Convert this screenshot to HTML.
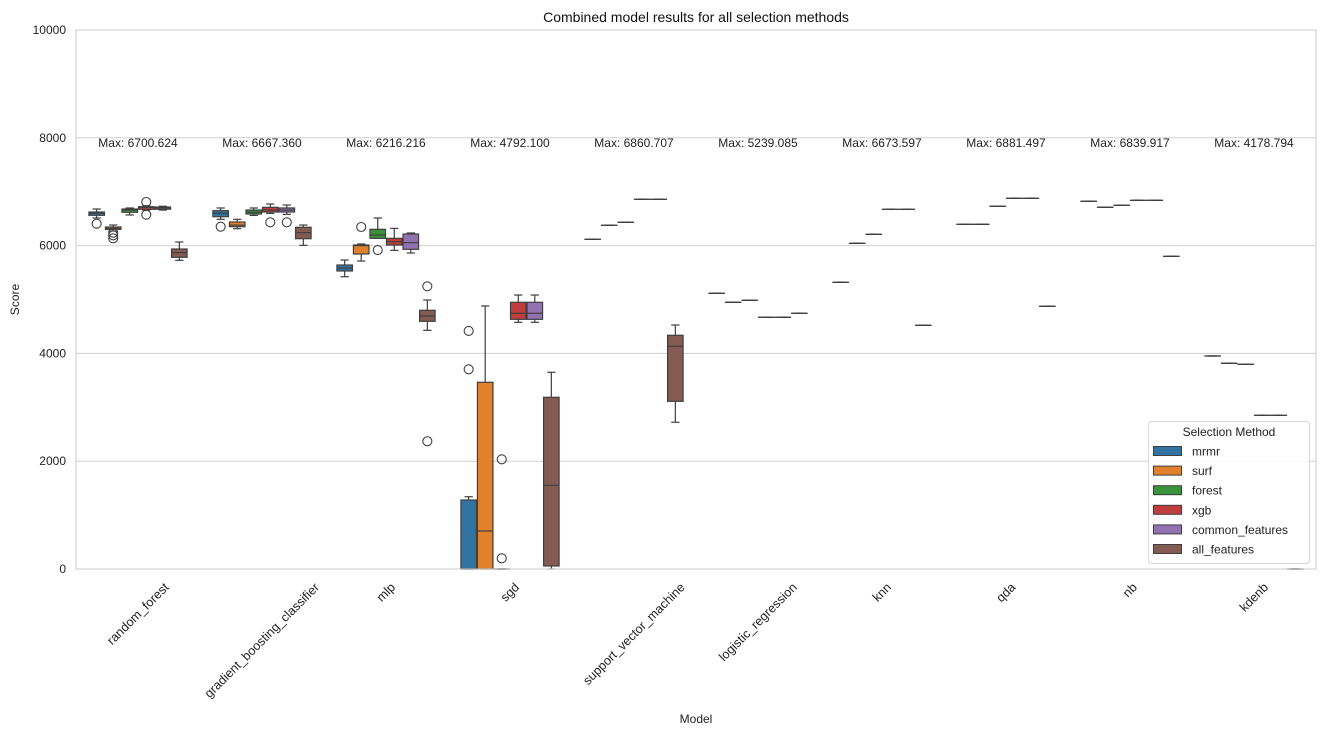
<!DOCTYPE html>
<html><head><meta charset="utf-8"><style>
body{margin:0;background:#fff;}
svg{display:block;font-family:"Liberation Sans","DejaVu Sans",sans-serif;}
</style></head><body>
<svg id="chart" width="1326" height="737" xmlns="http://www.w3.org/2000/svg">
<g id="grid"></g>
<g id="marks"></g>
<g id="axes"></g>
</svg>
<script>
const models=["random_forest","gradient_boosting_classifier","mlp","sgd","support_vector_machine","logistic_regression","knn","qda","nb","kdenb"];
const methods=["mrmr","surf","forest","xgb","common_features","all_features"];
const colors=["#3274a1","#e1812c","#3a923a","#c03d3e","#9372b2","#845b53"];
const maxLabels=["6700.624","6667.360","6216.216","4792.100","6860.707","5239.085","6673.597","6881.497","6839.917","4178.794"];
const yTicks=[0,2000,4000,6000,8000,10000];
// [lo, q1, med, q3, hi, outliers]
const stats=[
 [[6512,6562,6600,6623,6679,[6406]],[6271,6302,6320,6345,6382,[6240,6190,6135]],[6568,6618,6660,6679,6698,[]],[6660,6673,6710,6722,6740,[6809,6573]],[6660,6675,6700,6715,6730,[]],[5727,5783,5870,5937,6067,[]]],
 [[6488,6536,6600,6648,6698,[6351]],[6314,6351,6380,6438,6488,[]],[6560,6586,6620,6660,6698,[]],[6598,6623,6660,6710,6772,[6432]],[6580,6623,6660,6698,6753,[6432]],[6005,6128,6240,6340,6382,[]]],
 [[5423,5529,5584,5640,5732,[]],[5714,5844,6000,6011,6030,[6345]],[6135,6135,6197,6302,6512,[5918]],[5912,6011,6073,6135,6320,[]],[5863,5931,6054,6215,6234,[]],[4428,4595,4694,4800,4991,[5245,2370]]],
 [[0,0,0,1280,1341,[4416,3705]],[0,0,705,3464,4880,[]],[0,0,0,0,0,[2035,198]],[4577,4632,4744,4948,5083,[]],[4577,4632,4744,4948,5083,[]],[0,56,1553,3186,3650,[]]],
 [[6117,6117,6117,6117,6117,[]],[6377,6377,6377,6377,6377,[]],[6432,6432,6432,6432,6432,[]],[6859,6859,6859,6859,6859,[]],[6859,6859,6859,6859,6859,[]],[2722,3111,4132,4336,4527,[]]],
 [[5115,5115,5115,5115,5115,[]],[4948,4948,4948,4948,4948,[]],[4985,4985,4985,4985,4985,[]],[4670,4670,4670,4670,4670,[]],[4670,4670,4670,4670,4670,[]],[4744,4744,4744,4744,4744,[]]],
 [[5319,5319,5319,5319,5319,[]],[6042,6042,6042,6042,6042,[]],[6209,6209,6209,6209,6209,[]],[6673,6673,6673,6673,6673,[]],[6673,6673,6673,6673,6673,[]],[4521,4521,4521,4521,4521,[]]],
 [[6395,6395,6395,6395,6395,[]],[6395,6395,6395,6395,6395,[]],[6729,6729,6729,6729,6729,[]],[6877,6877,6877,6877,6877,[]],[6877,6877,6877,6877,6877,[]],[4874,4874,4874,4874,4874,[]]],
 [[6822,6822,6822,6822,6822,[]],[6711,6711,6711,6711,6711,[]],[6748,6748,6748,6748,6748,[]],[6840,6840,6840,6840,6840,[]],[6840,6840,6840,6840,6840,[]],[5801,5801,5801,5801,5801,[]]],
 [[3952,3952,3952,3952,3952,[]],[3816,3816,3816,3816,3816,[]],[3797,3797,3797,3797,3797,[]],[2851,2851,2851,2851,2851,[]],[2851,2851,2851,2851,2851,[]],[0,0,0,0,0,[]]]
];
const NS="http://www.w3.org/2000/svg";
const L=76,R=1316,T=30,B=569,YMAX=10000;
const band=(R-L)/models.length;
const y=v=>B-(v/YMAX)*(B-T);
const xc=i=>L+band*(i+0.5);
const hw=band*0.8/methods.length;
const xh=(i,j)=>xc(i)-band*0.4+hw*(j+0.5);
function el(tag,attrs,parent,text){const e=document.createElementNS(NS,tag);for(const k in attrs)e.setAttribute(k,attrs[k]);if(text!=null)e.textContent=text;parent.appendChild(e);return e;}
const grid=document.getElementById('grid'),marks=document.getElementById('marks'),axes=document.getElementById('axes'),svg=document.getElementById('chart');
yTicks.forEach(t=>{
 const g=el('line',{x1:L,x2:R,y1:y(t),y2:y(t),stroke:'#d0d0d0','stroke-width':1},grid);
 
 
 const tx=el('text',{x:L-10,y:y(t)+4,'text-anchor':'end','font-size':12,fill:'#222'},axes,String(t));
 
 
});
const frame=el('rect',{x:L,y:T,width:R-L,height:B-T,fill:'none',stroke:'#cccccc','stroke-width':1},axes);


const LC='#3f3f3f';
stats.forEach((grp,i)=>{
 grp.forEach((s,j)=>{
  const cx=xh(i,j),g=el('g',{},marks);
  
  
  const [lo,q1,md,q3,hi,out]=s;
  el('line',{x1:cx,x2:cx,y1:y(hi),y2:y(q3),stroke:LC,'stroke-width':1.2},g);
  el('line',{x1:cx,x2:cx,y1:y(q1),y2:y(lo),stroke:LC,'stroke-width':1.2},g);
  el('line',{x1:cx-hw/4,x2:cx+hw/4,y1:y(hi),y2:y(hi),stroke:LC,'stroke-width':1.2},g);
  el('line',{x1:cx-hw/4,x2:cx+hw/4,y1:y(lo),y2:y(lo),stroke:LC,'stroke-width':1.2},g);
  el('rect',{x:cx-hw/2+0.5,y:y(q3),width:hw-1,height:Math.max(y(q1)-y(q3),0.01),fill:colors[j],stroke:LC,'stroke-width':1.2},g);
  el('line',{x1:cx-hw/2+0.5,x2:cx+hw/2-0.5,y1:y(md),y2:y(md),stroke:LC,'stroke-width':1.2},g);
  out.forEach(o=>el('circle',{cx:cx,cy:y(o),r:4.5,fill:'none',stroke:LC,'stroke-width':1.1},g));
 });
 const m=el('text',{x:xc(i),y:147,'text-anchor':'middle','font-size':12,fill:'#222'},axes,'Max: '+maxLabels[i]);
 
 
 const xl=el('text',{x:0,y:0,'text-anchor':'middle','font-size':12.6,fill:'#222'},axes,models[i]);
 
 
 const w=xl.getComputedTextLength();
 const half=(w*0.7071+12*0.7071)/2;
 const cy=B+12+half;
 xl.setAttribute('transform','translate('+xc(i)+','+cy+') rotate(-45) translate(0,4)');
});
const title=el('text',{x:(L+R)/2,y:22,'text-anchor':'middle','font-size':14,fill:'#111'},axes,'Combined model results for all selection methods');


const xt=el('text',{x:(L+R)/2,y:723,'text-anchor':'middle','font-size':12,fill:'#222'},axes,'Model');


const yt=el('text',{x:19,y:(T+B)/2,'text-anchor':'middle','font-size':12,fill:'#222',transform:'rotate(-90 19 '+((T+B)/2)+')'},axes,'Score');


const lg=el('g',{},svg);


el('rect',{x:1148.5,y:421.5,width:161,height:142,rx:3,fill:'#fff','fill-opacity':0.85,stroke:'#d8d8d8'},lg);
el('text',{x:1229,y:436,'text-anchor':'middle','font-size':12,fill:'#222'},lg,'Selection Method');
methods.forEach((mth,j)=>{
 const ry=451+j*19.6;
 const e=el('g',{},lg);
 
 
 el('rect',{x:1153.5,y:ry-4.5,width:28,height:9,fill:colors[j],stroke:LC,'stroke-width':1},e);
 el('text',{x:1192,y:ry+4.5,'font-size':12,fill:'#222'},e,mth);
});
</script>
</body></html>
